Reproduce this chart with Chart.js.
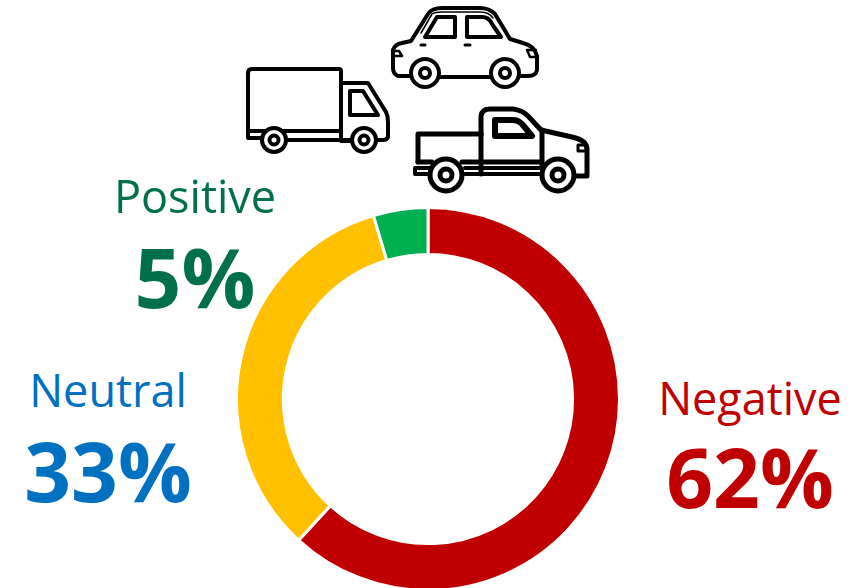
<!DOCTYPE html>
<html>
<head>
<meta charset="utf-8">
<script src="https://cdn.jsdelivr.net/npm/chart.js@4"></script>
<style>
html, body { margin: 0; padding: 0; background: #fff; }
body { position: relative; width: 862px; height: 588px; overflow: hidden; font-family: "Open Sans", "Noto Sans", sans-serif; }
#wrap { position: absolute; left: 235px; top: 206px; width: 386px; height: 386px; }
.lbl { position: absolute; text-align: center; white-space: nowrap; transform: translateX(-50%); line-height: 1; }
.name { font-size: 45px; font-weight: 400; }
.pct { font-size: 82px; font-weight: 700; }
svg.icon { position: absolute; left: 0; top: 0; filter: blur(0.4px); }
svg.icon * { fill: none; stroke: #000; stroke-linejoin: round; stroke-linecap: round; }
svg.icon circle.w { fill: #fff; }
</style>
</head>
<body>
<svg class="icon" width="862" height="210" viewBox="0 0 862 210">
  <!-- car -->
  <g stroke-width="4">
    <path d="M410 76 H398 Q393 74 393 68 V50 Q395 44 402 43 L411 41 L428 14 Q432 8 442 8 H480 Q489 8 495 14 L510 39 L523 43 Q535 46 537 56 V70 Q536 76 528 76 H520"/>
    <path d="M440 77 H490"/>
    <path d="M425 37 L437 17 H455 V37 Z"/>
    <path d="M467 37 V17 H482 Q489 17 492 24 L501 37 Z"/>
    <path d="M421 33 L432 14 Q435 12 442 12 H480 Q489 12 493 18" stroke-width="1.5"/>
    <circle class="w" cx="425" cy="73" r="14"/><circle cx="425" cy="73" r="5"/>
    <circle class="w" cx="505" cy="73" r="14"/><circle cx="505" cy="73" r="5"/>
    <path d="M421 45 H425 M465 45 H470" stroke-width="3"/>
    <path d="M393 51 H399 L402 56 H394 M536 50 L527 50 L530 57 H538" stroke-width="2.5"/>
  </g>
  <!-- box truck -->
  <g stroke-width="4">
    <path d="M252 69 H339 Q341 69 341 71 V131 H248 V73 Q248 69 252 69 Z"/>
    <path d="M341 83 H368 L386 112 Q388 116 388 122 V137 Q387 140 383 140 H377"/>
    <path d="M350 91 H363 L378 115 H350 Z"/>
    <path d="M341 131 V141 H351 M261 138 H248 V131 M287 140 H351"/>
    <circle class="w" cx="274" cy="140" r="12"/><circle cx="274" cy="140" r="4.5"/>
    <circle class="w" cx="364" cy="140" r="12"/><circle cx="364" cy="140" r="4.5"/>
  </g>
  <!-- pickup -->
  <g stroke-width="5">
    <path d="M481 134 V116 Q482 109 490 109 H513 Q522 110 528 116 L541 130 L572 137 Q586 140 587 148 V176 L576 176"/>
    <path d="M481 134 H418 V162"/>
    <path d="M481 134 V174"/>
    <path d="M495 120 H513 Q518 120 522 124 L532 136 H495 Z" stroke-width="6"/>
    <path d="M542 130 V168"/>
    <path d="M418 162 H432 M462 162 H540"/>
    <path d="M430 168 H415 V174 H430 M465 168 H542 M465 174 H542" stroke-width="4"/>
    <circle class="w" cx="446" cy="175" r="16"/><circle cx="446" cy="175" r="6"/>
    <circle class="w" cx="558" cy="175" r="16"/><circle cx="558" cy="175" r="6"/>
    <path d="M578 145 H586 V151 H578 Z" stroke-width="3"/>
  </g>
</svg>

<div id="wrap"><canvas id="c" width="386" height="386"></canvas></div>
<div id="labels"></div>

<script>
// values
const categories = ['Negative', 'Neutral', 'Positive'];
const shares = [62, 33, 5];
// slices as measured on the ring, the printed labels are rounded
const sliceValues = [61.8, 33.6, 4.6];
const sliceColors = ['#C00000', '#FFC000', '#00B050'];
const textColors = ['#C00000', '#0070C0', '#00704A'];
// label spots: [centre x, top of name, top of percent]
const labelSpots = [
  [750, 375, 435],
  [108, 367, 429],
  [195, 173, 235]
];

new Chart(document.getElementById('c').getContext('2d'), {
  type: 'doughnut',
  data: {
    labels: categories,
    datasets: [{
      data: sliceValues,
      backgroundColor: sliceColors,
      borderColor: '#fff',
      borderWidth: 3
    }]
  },
  options: {
    responsive: false,
    animation: false,
    cutout: '75.5%',
    rotation: 0,
    layout: { padding: 0 },
    plugins: { legend: { display: false }, tooltip: { enabled: false } }
  }
});

const box = document.getElementById('labels');
categories.forEach((name, i) => {
  const s = labelSpots[i];
  box.insertAdjacentHTML('beforeend',
    `<div class="lbl name" style="left:${s[0]}px;top:${s[1]}px;color:${textColors[i]}">${name}</div>` +
    `<div class="lbl pct" style="left:${s[0]}px;top:${s[2]}px;color:${textColors[i]}">${shares[i]}%</div>`);
});
</script>
</body>
</html>
